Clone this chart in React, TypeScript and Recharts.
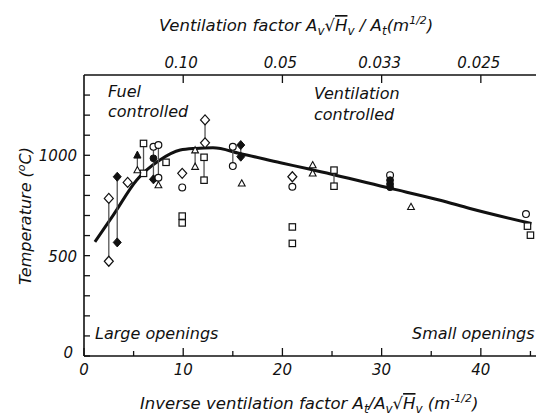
import { ComposedChart, Line, Scatter, XAxis, YAxis } from 'recharts'

// fitted curve (inverse ventilation factor -> temperature)
const curveX = [1.1, 2.95, 5.3, 7.65, 9.7, 11.2, 13.0, 15.7, 19.8, 22.8, 30.9, 35.9, 38.9, 45.1]
const curveT = [569, 702, 876, 976, 1026, 1034, 1037, 1009, 963, 930, 835, 776, 735, 660]

// measured points, split by marker
const openDiamond = [[2.5, 785], [2.5, 472], [4.4, 865], [9.9, 910], [12.2, 1176], [12.2, 1062], [21.0, 893]]
const filledDiamond = [[3.35, 893], [3.35, 566], [7.0, 880], [15.8, 1051], [15.8, 993]]
const openSquare = [
  [6.0, 1059], [6.0, 910], [8.27, 965], [9.9, 697], [9.9, 663], [12.1, 990], [12.1, 876],
  [21.0, 643], [21.0, 561], [25.2, 926], [25.2, 846], [44.7, 647], [45.0, 602],
]
const openCircle = [[7.0, 1042], [7.5, 1051], [7.5, 888], [9.9, 840], [15.0, 1042], [15.0, 946], [21.0, 843], [30.85, 901], [44.55, 707]]
const filledCircle = [[7.0, 985], [30.85, 876], [30.85, 857], [30.85, 841]]
const openTriangle = [[5.38, 926], [7.5, 851], [11.2, 1025], [11.2, 943], [15.9, 860], [23.05, 951], [23.05, 910], [32.96, 743]]
const filledTriangle = [[5.38, 1001]]

// vertical ranges joining pairs: [x, low, high]
const ranges = [
  [2.5, 472, 785], [3.35, 566, 893], [5.38, 926, 1001], [6.0, 910, 1059], [7.0, 880, 1042],
  [7.5, 851, 1051], [11.2, 943, 1025], [12.2, 1062, 1176], [12.1, 876, 990], [15.0, 946, 1042],
  [15.8, 993, 1051], [25.2, 846, 926],
]

const xTicks = [0, 5, 10, 15, 20, 25, 30, 35, 40, 45]
const topTicks = [10, 20, 30, 40]
const topLabels = ['0.10', '0.05', '0.033', '0.025']
const yTicks = [0, 100, 200, 300, 400, 500, 600, 700, 800, 900, 1000, 1100, 1200, 1300]
const yLabels = [0, 500, 1000]

const curve = curveX.map((x, i) => ({ x, t: curveT[i] }))
const pts = (a: number[][]) => a.map(([x, t]) => ({ x, t }))

const INK = '#111'
const FONT = '"DejaVu Sans", sans-serif'

const OpenDiamond = (p: any) => (
  <path d={`M${p.cx},${p.cy - 5}L${p.cx + 4.5},${p.cy}L${p.cx},${p.cy + 5}L${p.cx - 4.5},${p.cy}Z`} fill="#fff" stroke={INK} strokeWidth={1.2} />
)
const FilledDiamond = (p: any) => (
  <path d={`M${p.cx},${p.cy - 4.5}L${p.cx + 4},${p.cy}L${p.cx},${p.cy + 4.5}L${p.cx - 4},${p.cy}Z`} fill={INK} stroke={INK} strokeWidth={1} />
)
const OpenSquare = (p: any) => (
  <rect x={p.cx - 3.2} y={p.cy - 3.2} width={6.4} height={6.4} fill="#fff" stroke={INK} strokeWidth={1.2} />
)
const OpenCircle = (p: any) => <circle cx={p.cx} cy={p.cy} r={3.4} fill="#fff" stroke={INK} strokeWidth={1.2} />
const FilledCircle = (p: any) => <circle cx={p.cx} cy={p.cy} r={3.4} fill={INK} stroke={INK} strokeWidth={1} />
const OpenTriangle = (p: any) => (
  <path d={`M${p.cx},${p.cy - 3.6}L${p.cx + 3.4},${p.cy + 2.6}L${p.cx - 3.4},${p.cy + 2.6}Z`} fill="#fff" stroke={INK} strokeWidth={1.1} />
)
const FilledTriangle = (p: any) => (
  <path d={`M${p.cx},${p.cy - 4}L${p.cx + 3.6},${p.cy + 3}L${p.cx - 3.6},${p.cy + 3}Z`} fill={INK} stroke={INK} strokeWidth={1} />
)
const NoDot = () => <g />

const tickText = { fontFamily: FONT, fontStyle: 'italic', fontSize: 15, fill: INK }

const BottomTick = ({ x, y, payload }: any) => {
  const major = payload.value % 10 === 0
  return (
    <g>
      <line x1={x} x2={x} y1={y} y2={y - (major ? 8 : 5)} stroke={INK} strokeWidth={1.3} />
      {major && <text x={x} y={y + 19} textAnchor="middle" style={tickText}>{payload.value}</text>}
    </g>
  )
}

const TopTick = ({ x, y, payload }: any) => (
  <g>
    <line x1={x} x2={x} y1={y} y2={y + 8} stroke={INK} strokeWidth={1.3} />
    <text x={x - 2} y={y - 7} textAnchor="middle" style={tickText}>
      {topLabels[topTicks.indexOf(payload.value)]}
    </text>
  </g>
)

const LeftTick = ({ x, y, payload }: any) => (
  <g>
    <line x1={x} x2={x + 6} y1={y} y2={y} stroke={INK} strokeWidth={1.3} />
    {yLabels.includes(payload.value) && (
      <text x={payload.value === 0 ? x - 11 : x - 7} y={payload.value === 0 ? y + 2 : y + 6} textAnchor="end" style={tickText}>
        {payload.value}
      </text>
    )}
  </g>
)

export default function App() {
  const label = { fontFamily: FONT, fontStyle: 'italic', fontSize: 16, fill: INK } as const
  const title = { ...label, fontSize: 16.5 }
  return (
    <div style={{ position: 'absolute', left: 0, top: 0, width: 536, height: 418, background: '#fff' }}>
      <ComposedChart width={536} height={418} margin={{ top: 74, right: 0, bottom: 61, left: 83 }}>
        <XAxis
          dataKey="x"
          type="number"
          domain={[0, 45.56]}
          allowDataOverflow
          ticks={xTicks}
          interval={0}
          height={1}
          tickSize={0}
          tickMargin={0}
          tickLine={false}
          tick={<BottomTick />}
          axisLine={{ stroke: INK, strokeWidth: 1.6 }}
        />
        <XAxis
          xAxisId="top"
          dataKey="x"
          orientation="top"
          type="number"
          domain={[0, 45.56]}
          allowDataOverflow
          ticks={topTicks}
          interval={0}
          height={1}
          tickSize={0}
          tickMargin={0}
          tickLine={false}
          tick={<TopTick />}
          axisLine={{ stroke: INK, strokeWidth: 1.6 }}
        />
        <YAxis
          dataKey="t"
          type="number"
          domain={[0, 1400]}
          allowDataOverflow
          ticks={yTicks}
          interval={0}
          width={1}
          tickSize={0}
          tickMargin={0}
          tickLine={false}
          tick={<LeftTick />}
          axisLine={{ stroke: INK, strokeWidth: 1.6 }}
        />
        {/* invisible series so the top (reciprocal) axis is drawn */}
        <Line xAxisId="top" data={curve} dataKey="t" stroke="none" dot={false} activeDot={false} isAnimationActive={false} />
        {ranges.map(([x, lo, hi], i) => (
          <Scatter
            key={'r' + i}
            data={pts([[x, lo], [x, hi]])}
            line={{ stroke: '#555', strokeWidth: 1.3 }}
            shape={NoDot}
            isAnimationActive={false}
          />
        ))}
        <Line data={curve} dataKey="t" type="monotone" stroke={INK} strokeWidth={3} dot={false} isAnimationActive={false} />
        <Scatter data={pts(openSquare)} shape={OpenSquare} isAnimationActive={false} />
        <Scatter data={pts(openDiamond)} shape={OpenDiamond} isAnimationActive={false} />
        <Scatter data={pts(filledDiamond)} shape={FilledDiamond} isAnimationActive={false} />
        <Scatter data={pts(openCircle)} shape={OpenCircle} isAnimationActive={false} />
        <Scatter data={pts(filledCircle)} shape={FilledCircle} isAnimationActive={false} />
        <Scatter data={pts(openTriangle)} shape={OpenTriangle} isAnimationActive={false} />
        <Scatter data={pts(filledTriangle)} shape={FilledTriangle} isAnimationActive={false} />
      </ComposedChart>
      <svg width={536} height={418} style={{ position: 'absolute', left: 0, top: 0, pointerEvents: 'none' }}>
        <text x={159} y={31} style={title}>
          <tspan>Ventilation factor  A</tspan>
          <tspan dy={4} fontSize={12}>v</tspan>
          <tspan dy={-4}>√</tspan>
          <tspan textDecoration="overline">H</tspan>
          <tspan dy={4} fontSize={12}>v</tspan>
          <tspan dy={-4}> / A</tspan>
          <tspan dy={4} fontSize={12}>t</tspan>
          <tspan dy={-4}>(m</tspan>
          <tspan dy={-7} fontSize={11}>1/2</tspan>
          <tspan dy={7}>)</tspan>
        </text>
        <text x={140} y={409} style={title}>
          <tspan>Inverse ventilation factor  A</tspan>
          <tspan dy={4} fontSize={12}>t</tspan>
          <tspan dy={-4}>/A</tspan>
          <tspan dy={4} fontSize={12}>v</tspan>
          <tspan dy={-4}>√</tspan>
          <tspan textDecoration="overline">H</tspan>
          <tspan dy={4} fontSize={12}>v</tspan>
          <tspan dy={-4}> (m</tspan>
          <tspan dy={-7} fontSize={11}>-1/2</tspan>
          <tspan dy={7}>)</tspan>
        </text>
        <text transform="translate(31,216) rotate(-90)" textAnchor="middle" style={label}>
          <tspan>Temperature (</tspan>
          <tspan dy={-6} fontSize={11}>o</tspan>
          <tspan dy={6}>C)</tspan>
        </text>
        <text x={108} y={97} style={label}>Fuel</text>
        <text x={108} y={117} style={label}>controlled</text>
        <text x={314} y={99} style={label}>Ventilation</text>
        <text x={314} y={120} style={label}>controlled</text>
        <text x={95} y={339} style={label}>Large openings</text>
        <text x={412} y={339} style={label}>Small openings</text>
      </svg>
    </div>
  )
}
